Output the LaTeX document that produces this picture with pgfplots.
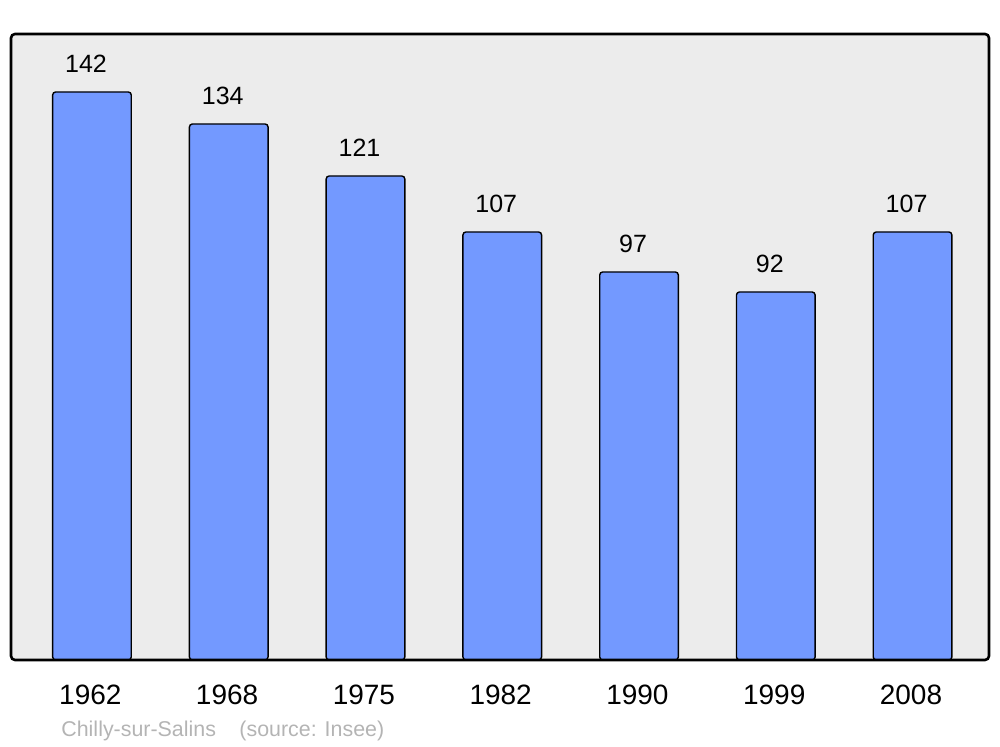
\documentclass[border=0pt]{standalone}
\usepackage{pgfplots}
\pgfplotsset{compat=1.18}
\usepackage{fontspec}
\setmainfont{Liberation Sans}
\definecolor{barblue}{RGB}{115,153,255}
\definecolor{bgray}{RGB}{236,236,236}
\definecolor{srcgray}{RGB}{180,180,180}
\begin{document}
\begin{tikzpicture}
\begin{axis}[
  scale only axis,
  width=489pt, height=313pt,
  xmin=-0.592, xmax=6.559,
  ymin=0, ymax=156.5,
  clip=false,
  /pgf/number format/assume math mode=true,
  axis line style={draw=none},
  axis background/.style={fill=bgray, rounded corners=2pt},
  ytick=\empty,
  xtick=data,
  xticklabels={1962,1968,1975,1982,1990,1999,2008},
  major tick length=0pt,
  xticklabel style={font=\fontsize{14pt}{16pt}\selectfont, anchor=base, yshift=-22.5pt, xshift=-0.8pt},
  ybar, bar width=0.575,
  nodes near coords,
  nodes near coords style={font=\fontsize{12.5pt}{14pt}\selectfont, anchor=base, yshift=9.5pt, xshift=-3pt, inner sep=0pt},
]
\addplot[fill=barblue, draw=black, line width=0.7pt, rounded corners=1.5pt] coordinates {
 (0,142) (1,134) (2,121) (3,107) (4,97) (5,92) (6,107)};
\draw[line width=1.3pt, rounded corners=2pt] (rel axis cs:0,0) rectangle (rel axis cs:1,1);
\end{axis}
\node[anchor=base west, text=srcgray, font=\fontsize{10.7pt}{12pt}\selectfont, inner sep=0pt] at ([xshift=25pt,yshift=-38.5pt]current axis.south west) {Chilly-sur-Salins\hspace{1.1em}(source: Insee)};
\path ([xshift=-5.5pt,yshift=-43.5pt]current axis.south west) rectangle ++(500pt,373.5pt);
\end{tikzpicture}
\end{document}
